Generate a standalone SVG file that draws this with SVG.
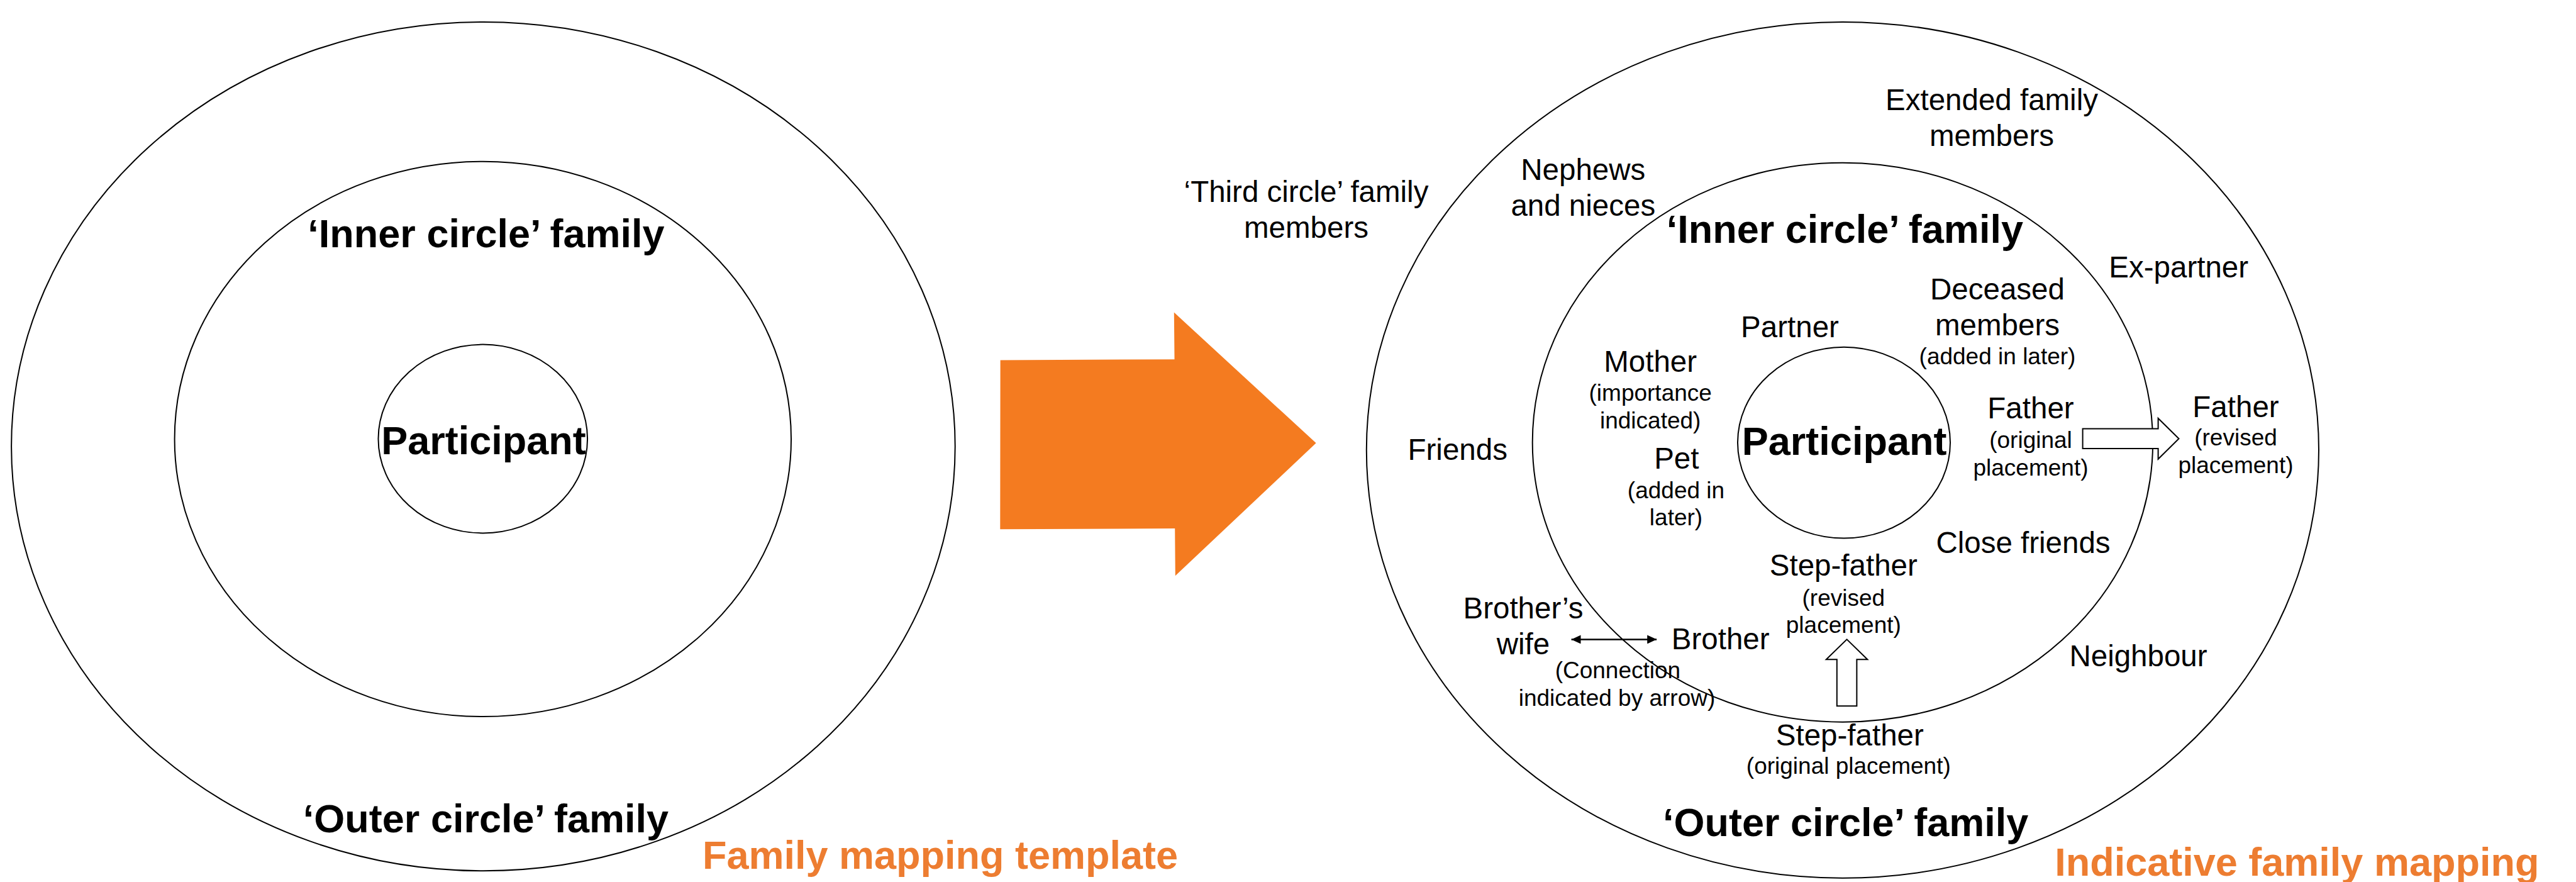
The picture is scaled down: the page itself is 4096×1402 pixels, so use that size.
<svg xmlns="http://www.w3.org/2000/svg" width="4096" height="1402" viewBox="0 0 4096 1402">
<defs>
<style>
.ring{fill:none;stroke:#000;stroke-width:2}
text{font-family:"Liberation Sans",Arial,Helvetica,sans-serif;fill:#000;text-anchor:middle}
.b{font-weight:bold;font-size:63px}
.l{font-size:47.5px}
.s{font-size:37px}
.title{font-weight:bold;font-size:63px;fill:#ED7D31}
.block{fill:#fff;stroke:#000;stroke-width:2}
.link{stroke:#000;stroke-width:2.5;fill:none}
</style>
<marker id="head" viewBox="0 0 15 14" refX="15" refY="7" markerWidth="15" markerHeight="14" markerUnits="userSpaceOnUse" orient="auto-start-reverse"><path d="M0,0 L15,7 L0,14 Z" fill="#000"/></marker>
</defs>
<rect x="0" y="0" width="4096" height="1402" fill="#fff"/>

<!-- Left: template -->
<g id="template-outer"><ellipse class="ring" cx="768.4" cy="709.6" rx="750.3" ry="674.7"/><text class="b" x="772.5" y="1322.5">‘Outer circle’ family</text></g>
<g id="template-inner"><ellipse class="ring" cx="767.8" cy="697.9" rx="490.2" ry="441.2"/><text class="b" x="773" y="393">‘Inner circle’ family</text></g>
<g id="template-participant"><ellipse class="ring" cx="767.8" cy="697.5" rx="166.3" ry="149.9"/><text class="b" x="769" y="722">Participant</text></g>
<g id="template-title"><text class="title" x="1495" y="1381">Family mapping template</text></g>

<!-- Big orange arrow -->
<g id="transition-arrow"><polygon points="1590.6,572.5 1867.5,571.2 1866.8,496.6 2092.6,704.3 1868.8,915.3 1868.2,840 1590.3,841.3" fill="#F47B20"/></g>

<!-- Right: indicative mapping -->
<g id="map-outer"><ellipse class="ring" cx="2929.9" cy="715.3" rx="757.1" ry="680.4"/><text class="b" x="2934.6" y="1329">‘Outer circle’ family</text></g>
<g id="map-inner"><ellipse class="ring" cx="2929.9" cy="703.2" rx="493.2" ry="444.5"/><text class="b" x="2933.3" y="386.4">‘Inner circle’ family</text></g>
<g id="map-participant"><ellipse class="ring" cx="2932" cy="703.6" rx="169" ry="151.9"/><text class="b" x="2932.6" y="723">Participant</text></g>

<g id="third-circle"><text class="l" x="2077" y="321">‘Third circle’ family</text><text class="l" x="2077" y="378">members</text></g>
<g id="extended-family"><text class="l" x="3167" y="174.7">Extended family</text><text class="l" x="3167" y="231.8">members</text></g>
<g id="nephews"><text class="l" x="2517.3" y="286.3">Nephews</text><text class="l" x="2517.3" y="343">and nieces</text></g>
<g id="ex-partner"><text class="l" x="3464.2" y="440.8">Ex-partner</text></g>
<g id="deceased"><text class="l" x="3176" y="475.8">Deceased</text><text class="l" x="3176" y="532.9">members</text><text class="s" x="3176" y="579.3">(added in later)</text></g>
<g id="partner"><text class="l" x="2846" y="535.9">Partner</text></g>
<g id="mother"><text class="l" x="2624.2" y="590.7">Mother</text><text class="s" x="2624.2" y="637">(importance</text><text class="s" x="2624.2" y="681.4">indicated)</text></g>
<g id="father-original"><text class="l" x="3229" y="664.6">Father</text><text class="s" x="3229" y="711.6">(original</text><text class="s" x="3229" y="756">placement)</text></g>
<g id="father-revised"><text class="l" x="3555" y="663">Father</text><text class="s" x="3555" y="708.1">(revised</text><text class="s" x="3555" y="752">placement)</text></g>
<g id="friends"><text class="l" x="2317.7" y="731.1">Friends</text></g>
<g id="pet"><text class="l" x="2665.8" y="745.2">Pet</text><text class="s" x="2665" y="791.6">(added in</text><text class="s" x="2665" y="835.3">later)</text></g>
<g id="close-friends"><text class="l" x="3217" y="879">Close friends</text></g>
<g id="stepfather-revised"><text class="l" x="2931.3" y="915.3">Step-father</text><text class="s" x="2931.3" y="962.6">(revised</text><text class="s" x="2931.3" y="1006.3">placement)</text></g>
<g id="brothers-wife"><text class="l" x="2422" y="982.8">Brother’s</text><text class="l" x="2422" y="1039.9">wife</text></g>
<g id="brother"><text class="l" x="2735.7" y="1031.5">Brother</text></g>
<g id="connection-note"><text class="s" x="2572.4" y="1077.9">(Connection</text><text class="s" x="2571" y="1122.2">indicated by arrow)</text></g>
<g id="neighbour"><text class="l" x="3400" y="1059.1">Neighbour</text></g>
<g id="stepfather-original"><text class="l" x="2941.3" y="1184.7">Step-father</text><text class="s" x="2939.3" y="1230.4">(original placement)</text></g>
<g id="map-title"><text class="title" x="3652.3" y="1392.4">Indicative family mapping</text></g>

<!-- Connectors -->
<g id="connectors">
<polygon class="block" points="3311.6,681.4 3431.6,681.4 3431.6,665 3464.5,697.3 3431.6,729.8 3431.6,713 3311.6,713"/>
<polygon class="block" points="2920.8,1122.2 2920.8,1048.3 2903.8,1048.3 2936.6,1016.4 2969.4,1048.3 2952.4,1048.3 2952.4,1122.2"/>
<line class="link" x1="2498.5" y1="1016.4" x2="2634.2" y2="1016.4" marker-start="url(#head)" marker-end="url(#head)"/>
</g>
</svg>
